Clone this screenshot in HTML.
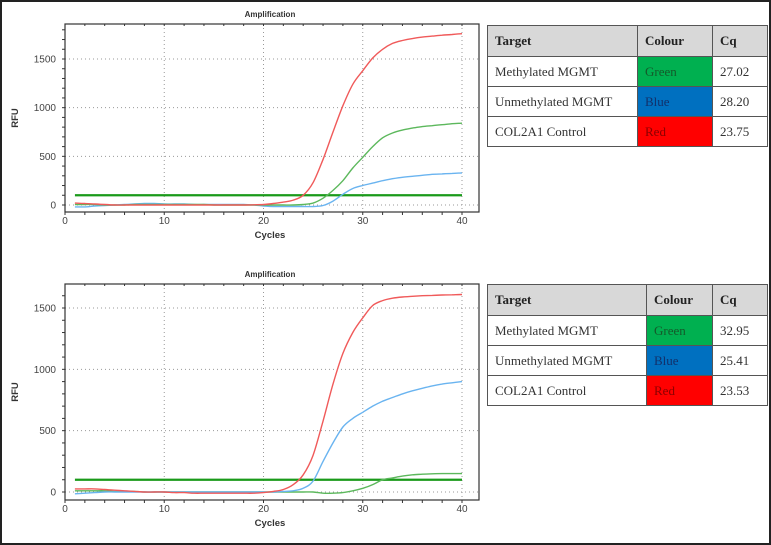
<!DOCTYPE html>
<html><head><meta charset="utf-8"><style>
body{margin:0;background:#fff;}
#wrap{position:relative;width:771px;height:545px;overflow:hidden;}
svg{position:absolute;left:0;top:0;}
table{position:absolute;border-collapse:collapse;font-family:"Liberation Serif",serif;font-size:13px;color:#333;}
td,th{border:1.5px solid #555;padding:0 7px;text-align:left;}
th{background:#d8d8d8;font-weight:bold;color:#222;height:30px;}
td{height:29px;}
</style></head><body>
<div id="wrap">
<svg id="svg" width="771" height="545"></svg>
<table style="left:487px;top:25px;width:281px;">
<tr><th style="width:135px">Target</th><th style="width:60px">Colour</th><th>Cq</th></tr>
<tr><td>Methylated MGMT</td><td style="background:#00b050;color:#145a2a">Green</td><td>27.02</td></tr>
<tr><td>Unmethylated MGMT</td><td style="background:#0070c0;color:#12306a">Blue</td><td>28.20</td></tr>
<tr><td>COL2A1 Control</td><td style="background:#ff0000;color:#8a0000">Red</td><td>23.75</td></tr>
</table>
<table style="left:487px;top:284px;width:281px;">
<tr><th style="width:144px">Target</th><th style="width:51px">Colour</th><th>Cq</th></tr>
<tr><td>Methylated MGMT</td><td style="background:#00b050;color:#145a2a">Green</td><td>32.95</td></tr>
<tr><td>Unmethylated MGMT</td><td style="background:#0070c0;color:#12306a">Blue</td><td>25.41</td></tr>
<tr><td>COL2A1 Control</td><td style="background:#ff0000;color:#8a0000">Red</td><td>23.53</td></tr>
</table>
</div>
<script>
const cycles=[];for(let i=1;i<=40;i++)cycles.push(i);
const xTicks=[0,10,20,30,40];
const yTicks=[0,500,1000,1500];
const threshold=100;
const topRed=[20,15,10,5,0,0,0,0,0,0,0,0,0,0,0,0,0,0,2,5,15,30,50,100,230,470,750,1020,1240,1380,1510,1600,1660,1690,1710,1725,1735,1745,1752,1760];
const topGreen=[5,5,5,0,0,0,5,5,5,5,5,5,5,5,0,0,0,0,0,0,0,0,0,5,20,70,150,250,380,490,600,690,740,770,790,805,815,825,835,840];
const topBlue=[-20,-20,-10,-5,0,5,10,15,15,10,10,10,5,5,5,5,5,5,0,-10,-15,-15,-15,-15,-15,-5,40,110,170,200,225,250,270,285,295,305,315,320,325,330];
const botRed=[25,25,25,20,15,10,5,0,0,0,-5,-5,-10,-10,-10,-10,-10,-10,-10,-5,5,20,60,140,300,580,880,1130,1300,1420,1520,1560,1580,1590,1595,1600,1603,1606,1608,1610];
const botBlue=[-15,-10,-5,0,0,0,0,0,0,0,0,0,0,0,0,0,0,0,0,0,0,5,10,30,90,250,400,530,600,650,700,740,770,800,825,845,865,880,890,900];
const botGreen=[10,10,10,10,5,5,5,0,0,0,0,0,0,0,0,0,0,0,0,0,0,0,0,0,0,-10,-10,-5,10,30,60,100,115,130,140,145,148,150,150,150];

const svg=document.getElementById('svg');const NS='http://www.w3.org/2000/svg';
function el(t,a,p){const e=document.createElementNS(NS,t);for(const k in a)e.setAttribute(k,a[k]);(p||svg).appendChild(e);return e;}
const frame=el('rect',{x:1,y:1,width:769,height:543,fill:'none',stroke:'#222','stroke-width':2});



function chart(name,top,bottom,y0px,y1500px,series){
  const g=el('g',{});
  
  
  const L=65,R=479;
  const xs=c=>65+c*(462-65)/40;
  const ys=v=>y0px+v*(y1500px-y0px)/1500;
  const t=el('text',{x:270,y:top-7,'font-family':'Liberation Sans, sans-serif','font-size':8,'font-weight':'bold','text-anchor':'middle',fill:'#333'},g);
  t.textContent='Amplification';
  
  
  xTicks.forEach(c=>{if(c>0){const l=el('line',{x1:xs(c),x2:xs(c),y1:top,y2:bottom,stroke:'#999','stroke-dasharray':'1,3'},g);}
    const tx=el('text',{x:xs(c),y:bottom+12,'font-family':'Liberation Sans, sans-serif','font-size':10,'text-anchor':'middle',fill:'#444'},g);tx.textContent=c;
    });
  for(let c=0;c<=40;c+=2){el('line',{x1:xs(c),x2:xs(c),y1:bottom,y2:bottom+3,stroke:'#333'},g);el('line',{x1:xs(c),x2:xs(c),y1:top,y2:top+2,stroke:'#333'},g);}
  yTicks.forEach(v=>{const l=el('line',{x1:L,x2:R,y1:ys(v),y2:ys(v),stroke:'#999','stroke-dasharray':'1,3'},g);
    const ty=el('text',{x:L-9,y:ys(v)+3.5,'font-family':'Liberation Sans, sans-serif','font-size':10,'text-anchor':'end',fill:'#444'},g);ty.textContent=v;
    });
  for(let v=-100;v<=1800;v+=100){const y=ys(v);if(y>top&&y<bottom)el('line',{x1:L-3,x2:L,y1:y,y2:y,stroke:'#333'},g);}
  const box=el('rect',{x:L,y:top,width:R-L,height:bottom-top,fill:'none',stroke:'#333','stroke-width':1.2},g);
  
  const xt=el('text',{x:270,y:bottom+26,'font-family':'Liberation Sans, sans-serif','font-size':9.5,'font-weight':'bold','text-anchor':'middle',fill:'#333'},g);xt.textContent='Cycles';
  
  const yt=el('text',{x:0,y:0,transform:`translate(18,${(top+bottom)/2}) rotate(-90)`,'font-family':'Liberation Sans, sans-serif','font-size':9.5,'font-weight':'bold','text-anchor':'middle',fill:'#333'},g);yt.textContent='RFU';
  
  const th=el('line',{x1:xs(1),x2:xs(40),y1:ys(threshold),y2:ys(threshold),stroke:'#1a9a1a','stroke-width':2.2},g);
  
  series.forEach(([vals,col,nm])=>{
    const pts=vals.map((v,i)=>[xs(cycles[i]),ys(v)]);
    let d='M'+pts[0][0].toFixed(1)+','+pts[0][1].toFixed(1);
    for(let i=0;i<pts.length-1;i++){
      const p0=pts[Math.max(0,i-1)],p1=pts[i],p2=pts[i+1],p3=pts[Math.min(pts.length-1,i+2)];
      const c1=[p1[0]+(p2[0]-p0[0])/6,p1[1]+(p2[1]-p0[1])/6],c2=[p2[0]-(p3[0]-p1[0])/6,p2[1]-(p3[1]-p1[1])/6];
      d+=`C${c1[0].toFixed(1)},${c1[1].toFixed(1)} ${c2[0].toFixed(1)},${c2[1].toFixed(1)} ${p2[0].toFixed(1)},${p2[1].toFixed(1)}`;
    }
    const p=el('path',{d:d,fill:'none',stroke:col,'stroke-width':1.4,'stroke-linejoin':'round'},g);
    
  });
}
chart('amplification-chart-top',24,212,205,59,[[topBlue,'#6ab4f0','blue-curve'],[topGreen,'#5cb85c','green-curve'],[topRed,'#f05a5a','red-curve']]);
chart('amplification-chart-bottom',284,500,492,308,[[botGreen,'#5cb85c','green-curve'],[botBlue,'#6ab4f0','blue-curve'],[botRed,'#f05a5a','red-curve']]);
</script>
</body></html>
